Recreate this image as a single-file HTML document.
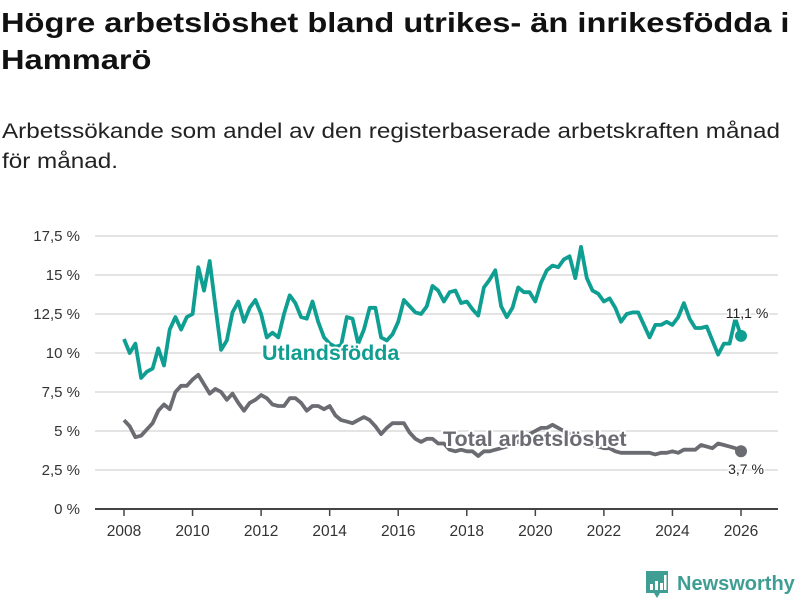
<!DOCTYPE html>
<html><head><meta charset="utf-8"><style>
body{margin:0;background:#fff;width:800px;height:600px;overflow:hidden;font-family:"Liberation Sans",sans-serif;}
#title{position:absolute;left:1px;top:4px;font-size:28px;font-weight:bold;color:#111;line-height:37px;margin:0;transform:scaleX(1.165);transform-origin:0 0;white-space:nowrap;}
#sub{position:absolute;left:2px;top:117px;font-size:21px;color:#222;line-height:30px;margin:0;transform:scaleX(1.155);transform-origin:0 0;white-space:nowrap;}
svg{position:absolute;left:0;top:0;}
.lbl{font-weight:bold;font-size:21.5px;paint-order:stroke;stroke:#fff;stroke-width:4px;stroke-linejoin:round;}
</style></head><body>
<h1 id="title">Högre arbetslöshet bland utrikes- än inrikesfödda i<br>Hammarö</h1>
<p id="sub">Arbetssökande som andel av den registerbaserade arbetskraften månad<br>för månad.</p>
<svg id="chart" width="800" height="600"></svg>
<script>
const yTicks=[0,2.5,5,7.5,10,12.5,15,17.5];
const yTickLabels=["0 %","2,5 %","5 %","7,5 %","10 %","12,5 %","15 %","17,5 %"];
const xTicks=[2008,2010,2012,2014,2016,2018,2020,2022,2024,2026];
const startYear=2008;
const foreignBorn=[
10.9,10.0,10.6,8.4,8.8,9.0,
10.3,9.2,11.5,12.3,11.5,12.3,
12.5,15.5,14.0,15.9,13.0,10.2,
10.8,12.6,13.3,12.0,12.9,13.4,
12.5,11.0,11.3,11.0,12.5,13.7,
13.2,12.3,12.2,13.3,12.0,11.0,
10.6,10.4,10.5,12.3,12.2,10.6,
11.5,12.9,12.9,11.0,10.8,11.2,
12.0,13.4,13.0,12.6,12.5,13.0,
14.3,14.0,13.3,13.9,14.0,13.2,
13.3,12.8,12.4,14.2,14.7,15.3,
13.0,12.3,12.9,14.2,13.9,13.9,
13.3,14.5,15.3,15.6,15.5,16.0,
16.2,14.8,16.8,14.8,14.0,13.8,
13.3,13.5,12.9,12.0,12.5,12.6,
12.6,11.8,11.0,11.8,11.8,12.0,
11.8,12.3,13.2,12.2,11.6,11.6,
11.7,10.8,9.9,10.6,10.6,12.2,
11.1];
const total=[
5.7,5.3,4.6,4.7,5.1,5.5,
6.3,6.7,6.4,7.5,7.9,7.9,
8.3,8.6,8.0,7.4,7.7,7.5,
7.0,7.4,6.8,6.3,6.8,7.0,
7.3,7.1,6.7,6.6,6.6,7.1,
7.1,6.8,6.3,6.6,6.6,6.4,
6.6,6.0,5.7,5.6,5.5,5.7,
5.9,5.7,5.3,4.8,5.2,5.5,
5.5,5.5,4.9,4.5,4.3,4.5,
4.5,4.2,4.2,3.8,3.7,3.8,
3.7,3.7,3.4,3.7,3.7,3.8,
3.9,4.0,4.2,4.3,4.6,4.8,
5.0,5.2,5.2,5.4,5.2,5.0,
4.8,4.7,4.5,4.3,4.1,4.0,
3.9,3.9,3.7,3.6,3.6,3.6,
3.6,3.6,3.6,3.5,3.6,3.6,
3.7,3.6,3.8,3.8,3.8,4.1,
4.0,3.9,4.2,4.1,4.0,3.9,
3.7];
const lastLabels=["11,1 %","3,7 %"];

const NS="http://www.w3.org/2000/svg";
const svg=document.getElementById('chart');
function X(yr){return 124+(yr-2008)*(741-124)/18;}
function Y(v){return 509-v*15.6;}
function mk(tag,attrs){const e=document.createElementNS(NS,tag);for(const k in attrs)e.setAttribute(k,attrs[k]);svg.appendChild(e);return e;}

yTicks.forEach((t,i)=>{
  const g=mk('line',{x1:95,x2:778,y1:Y(t),y2:Y(t),stroke:'#dcdcdc','stroke-width':1.5});
  
  
  const tx=mk('text',{x:80,y:Y(t)+5,'text-anchor':'end','font-size':15,fill:'#333'});
  tx.textContent=yTickLabels[i];
  
  
});
const ax=mk('line',{x1:95,x2:778,y1:509,y2:509,stroke:'#444','stroke-width':2});


xTicks.forEach(t=>{
  const tk=mk('line',{x1:X(t),x2:X(t),y1:509,y2:516,stroke:'#444','stroke-width':1.5});
  
  
  const tx=mk('text',{x:X(t),y:536,'text-anchor':'middle','font-size':15.5,fill:'#333'});
  tx.textContent=t;
  
  
});
function series(arr,color,name){
  const d=arr.map((v,i)=>(i?'L':'M')+X(startYear+i/6).toFixed(1)+','+Y(v).toFixed(1)).join('');
  const p=mk('path',{d:d,fill:'none',stroke:color,'stroke-width':3.8,'stroke-linejoin':'round'});
  
  
  const n=arr.length-1;
  const c=mk('circle',{cx:X(startYear+n/6),cy:Y(arr[n]),r:6,fill:color});
  
  
}
series(total,'#6b6b72','total');
series(foreignBorn,'#0f9e92','foreign-born');

const l1=mk('text',{x:262,y:360,fill:'#0f9e92',class:'lbl'});
l1.textContent='Utlandsfödda';


const l2=mk('text',{x:443,y:446,fill:'#6b6b72',class:'lbl'});
l2.textContent='Total arbetslöshet';


const v1=mk('text',{x:747,y:318,'text-anchor':'middle','font-size':14,fill:'#222',class:'lbl',style:'font-weight:normal;font-size:14px;stroke-width:3px'});
v1.textContent=lastLabels[0];


const v2=mk('text',{x:746,y:474,'text-anchor':'middle','font-size':14,fill:'#222',class:'lbl',style:'font-weight:normal;font-size:14px;stroke-width:3px'});
v2.textContent=lastLabels[1];



// logo
const lg=mk('g',{});


const r=document.createElementNS(NS,'path');
r.setAttribute('d','M646,571h22v22h-8l-3,5l-3,-5h-8z');
r.setAttribute('fill','#3f9e94');
lg.appendChild(r);
[[650,584,3,6],[655,581,3,9],[660,583,3,7],[664,575,2.5,15]].forEach(b=>{
  const br=document.createElementNS(NS,'rect');
  br.setAttribute('x',b[0]);br.setAttribute('y',b[1]);br.setAttribute('width',b[2]);br.setAttribute('height',b[3]);br.setAttribute('fill','#fff');
  lg.appendChild(br);
});
const lt=document.createElementNS(NS,'text');
lt.setAttribute('x',677);lt.setAttribute('y',590);lt.setAttribute('font-size',20);lt.setAttribute('font-weight','bold');lt.setAttribute('fill','#3f9e94');
lt.textContent='Newsworthy';
lg.appendChild(lt);
</script>
</body></html>
